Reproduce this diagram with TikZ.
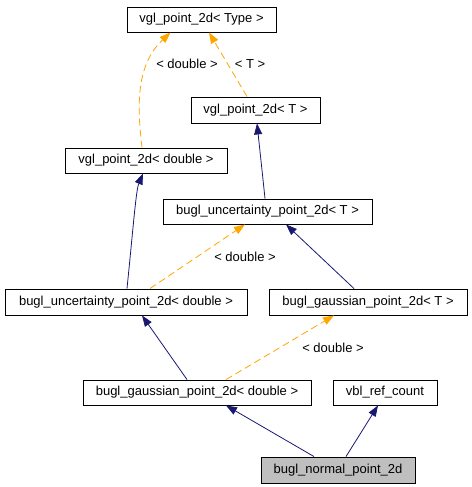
\documentclass[tikz,border=0pt]{standalone}
\usepackage{fontspec}
\setmainfont{Liberation Sans}
\usetikzlibrary{arrows.meta}
\definecolor{navyedge}{HTML}{191970}
\definecolor{orangeedge}{HTML}{FFA500}
\definecolor{grayfill}{HTML}{BFBFBF}
\tikzset{
  cls/.style={draw=black, line width=0.9pt, inner sep=0pt, fill=white, font=\fontsize{13}{15}\selectfont, text height=9.5pt, text depth=3pt},
  inh/.style={draw=navyedge, line width=0.8pt, -{Triangle[length=11pt,width=8pt]}},
  tmpl/.style={draw=orangeedge, line width=0.8pt, dash pattern=on 7pt off 4pt, -{Triangle[length=11pt,width=8pt]}},
  lbl/.style={font=\fontsize{13}{15}\selectfont, inner sep=0pt}
}
\begin{document}
\begin{tikzpicture}[x=1pt,y=-1pt]
\useasboundingbox (0,0) rectangle (471,487);
\node[cls, minimum width=149pt, minimum height=25pt] (b1) at (201.5,19.5) {vgl\_point\_2d< Type >};
\node[cls, minimum width=129pt, minimum height=26pt] (b2) at (255.5,110) {vgl\_point\_2d< T >};
\node[cls, minimum width=162pt, minimum height=25pt] (b3) at (146,160.5) {vgl\_point\_2d< double >};
\node[cls, minimum width=209pt, minimum height=25pt] (b4) at (267.5,211.5) {bugl\_uncertainty\_point\_2d< T >};
\node[cls, minimum width=242pt, minimum height=26pt] (b5) at (126,302) {bugl\_uncertainty\_point\_2d< double >};
\node[cls, minimum width=198pt, minimum height=26pt] (b6) at (368,302) {bugl\_gaussian\_point\_2d< T >};
\node[cls, minimum width=228pt, minimum height=25pt] (b7) at (197,392.5) {bugl\_gaussian\_point\_2d< double >};
\node[cls, minimum width=104pt, minimum height=25pt] (b8) at (385,392.5) {vbl\_ref\_count};
\node[cls, fill=grayfill, minimum width=154pt, minimum height=26pt] (b9) at (338,470) {bugl\_normal\_point\_2d};

\draw[tmpl] ([xshift=-4pt]b3.north) .. controls (137,105) and (136,65) .. ([xshift=-31pt]b1.south);
\node[lbl] (l1) at (187,64) {< double >};
\draw[tmpl] ([xshift=-8.5pt]b2.north) -- ([xshift=7.5pt]b1.south);
\node[lbl] (l2) at (250,64) {< T >};
\draw[inh] ([xshift=-2.5pt]b4.north) .. controls (262,170) .. ([xshift=1.5pt]b2.south);
\draw[inh] ([xshift=1pt]b5.north) .. controls (133,230) and (136,190) .. ([xshift=-3pt]b3.south);
\draw[tmpl] ([xshift=24pt]b5.north) -- ([xshift=-22.5pt]b4.south);
\node[lbl] (l3) at (245,257) {< double >};
\draw[inh] ([xshift=-14pt]b6.north) -- ([xshift=18.5pt]b4.south);
\draw[inh] ([xshift=-10pt]b7.north) -- ([xshift=16pt]b5.south);
\draw[tmpl] ([xshift=29pt]b7.north) -- ([xshift=-34pt]b6.south);
\node[lbl] (l4) at (333,348) {< double >};
\draw[inh] ([xshift=-24pt]b9.north) -- ([xshift=29pt]b7.south);
\draw[inh] ([xshift=8pt]b9.north) -- ([xshift=-7pt]b8.south);
\end{tikzpicture}
\end{document}
